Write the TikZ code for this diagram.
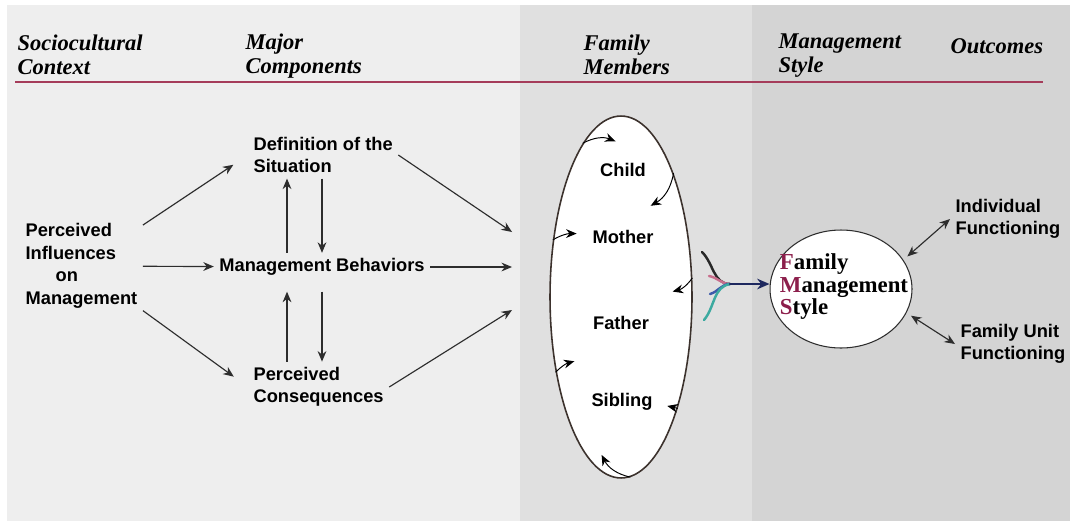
\documentclass[tikz,border=0pt]{standalone}
\usepackage{fontspec}
\setmainfont{Liberation Serif}
\setsansfont{Liberation Sans}
\usetikzlibrary{arrows.meta,shapes.geometric,calc}

\definecolor{bgleft}{RGB}{238,238,238}
\definecolor{bgmid}{RGB}{224,224,224}
\definecolor{bgright}{RGB}{212,212,212}
\definecolor{rulecol}{RGB}{165,60,90}
\definecolor{arrgray}{RGB}{45,45,45}
\definecolor{ellborder}{RGB}{60,50,45}
\definecolor{fmsred}{RGB}{140,30,75}
\definecolor{kblack}{RGB}{40,40,40}
\definecolor{kpink}{RGB}{200,110,140}
\definecolor{kblue}{RGB}{60,90,170}
\definecolor{kteal}{RGB}{60,170,160}
\definecolor{knavy}{RGB}{30,40,95}

\begin{document}
\begin{tikzpicture}[x=0.02cm, y=-0.02cm,
	hdr/.style={font=\bfseries\itshape\fontsize{12.8}{13.7}\selectfont, align=left, anchor=west, inner sep=3pt},
	lbl/.style={font=\sffamily\bfseries\fontsize{10.4}{12.8}\selectfont, inner sep=3pt},
	arr/.style={draw=arrgray, line width=0.65pt, -{Stealth[length=6pt,width=5pt]}},
	darr/.style={draw=arrgray, line width=0.65pt, {Stealth[length=6pt,width=5pt]}-{Stealth[length=6pt,width=5pt]}},
	cyc/.style={draw=black, line width=0.55pt, -{Stealth[length=6pt,width=5pt]}},
	feed/.style={line width=1.4pt, line cap=round}]
			\useasboundingbox (0,0) rectangle (1074,521);
			\fill[white] (0,0) rectangle (1074,521);
			\fill[bgleft] (7,5) rectangle (520,521);
			\fill[bgmid] (520,5) rectangle (752,521);
			\fill[bgright] (752,5) rectangle (1070,521);
			\draw[rulecol, line width=1.1pt] (15,82) -- (1043,82);

			\node[hdr] (soc) at (12,55){Sociocultural\\Context};
			\node[hdr] (major) at (240,56){Major\\Components};
			\node[hdr] (fmem) at (578,55){Family\\Members};
			\node[hdr] (mstyle) at (773,56){Management\\Style};
			\node[hdr] (outc) at (945,46){Outcomes};

			\node[lbl, align=left, anchor=west] (pi) at (20,266){Perceived\\Influences\\\hspace*{0.6cm}on\\Management};
			\node[lbl, align=left, anchor=west] (def) at (248,155){Definition of the\\Situation};
			\node[lbl] (mb) at (322,267){Management Behaviors};
			\node[lbl, align=left, anchor=west] (pc) at (248,387){Perceived\\Consequences};

			\coordinate (in1) at (512,232);
			\coordinate (in2) at (512,267);
			\coordinate (in3) at (512,310);

			\path (pi) edge[arr, shorten >=10pt] (def.west);
			\path (pi) edge[arr] (mb);
			\path (pi) edge[arr, shorten >=10pt] (pc.west);
			\path (mb.north |- def.south) edge[arr] (mb.north);
			\path ([xshift=-0.7cm]mb.north) edge[arr] ([xshift=-0.7cm]mb.north |- def.south);
			\path (mb.south) edge[arr, shorten <=6pt] (mb.south |- pc.north);
			\path ([xshift=-0.7cm]mb.south |- pc.north) edge[arr, shorten >=6pt] ([xshift=-0.7cm]mb.south);
			\path (def.east) edge[arr] (in1);
			\path (mb) edge[arr] (in2);
			\path (pc.east) edge[arr] (in3);

			\node[ellipse, draw=ellborder, line width=0.9pt, fill=white, minimum width=2.84cm, minimum height=7.24cm, inner sep=0pt] (fam) at (621,297){};
			\node[lbl] (child) at (623,170){Child};
			\node[lbl] (mother) at (623,237){Mother};
			\node[lbl] (father) at (621,323){Father};
			\node[lbl] (sibling) at (622,402){Sibling};

			\path (fam.104) edge[cyc, bend left=25] ($(fam.center)!0.86!(fam.92)$);
			\path (fam.67) edge[cyc, bend left=25] ($(fam.center)!0.65!(fam.72)$);
			\path (fam.140) edge[cyc, bend left=15] ($(fam.center)!0.71!(fam.125)$);
			\path (fam.15) edge[cyc, bend left=20] ($(fam.center)!0.72!(fam.6)$);
			\path (fam.229) edge[cyc, bend left=15] ($(fam.center)!0.74!(fam.234)$);
			\path (fam.297) edge[cyc] ($(fam.center)!0.88!(fam.293)$);
			\path (fam.273) edge[cyc, bend left=25] ($(fam.center)!0.91!(fam.263)$);

			\node[ellipse, draw=arrgray, line width=0.6pt, fill=white, minimum width=2.84cm, minimum height=2.36cm, inner sep=0pt] (fms) at (841,289){};
			\node[font=\bfseries\fontsize{13}{12.8}\selectfont, align=left, inner sep=0pt] (fmst) at (844,287){{\color{fmsred}F}amily\\{\color{fmsred}M}anagement\\{\color{fmsred}S}tyle};

			\coordinate (kb) at (702,252);
			\coordinate (kp) at (709,276);
			\coordinate (kbl) at (710,294);
			\coordinate (kt) at (704,320);
			\coordinate (merge) at (730,284);
			\draw[feed, kblack] (kb) to[out=-45, in=180] (merge);
			\draw[feed, kpink] (kp) to[out=-10, in=180] (merge);
			\draw[feed, kblue] (kbl) to[out=15, in=180] (merge);
			\draw[feed, kteal] (kt) to[out=50, in=190] (merge);
			\draw[feed, knavy, -{Stealth[length=7pt,width=6pt]}] (merge) -- (merge -| fms.west);

			\node[lbl, align=left, anchor=west] (indiv) at (950,219){Individual\\Functioning};
			\node[lbl, align=left, anchor=west] (funit) at (955,344){Family Unit\\Functioning};
			\path (fms.25) edge[darr, shorten <=3pt] (indiv.west);
			\path (fms.340) edge[darr, shorten <=3pt] (funit.west);
\end{tikzpicture}
\end{document}
